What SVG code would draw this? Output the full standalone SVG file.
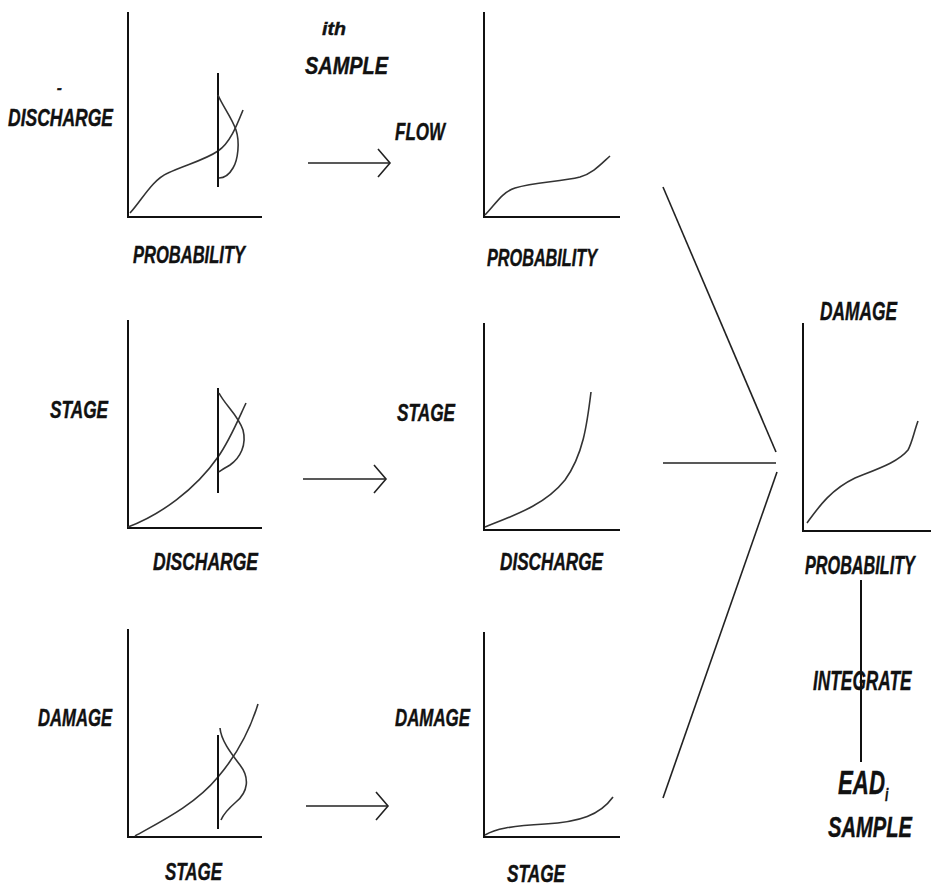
<svg xmlns="http://www.w3.org/2000/svg" width="931" height="888" viewBox="0 0 931 888">
<style>
.ax{fill:none;stroke:#111;stroke-width:2}
.cv{fill:none;stroke:#333;stroke-width:1.6}
.sl{fill:none;stroke:#111;stroke-width:2}
.cn{fill:none;stroke:#222;stroke-width:1.6}
.lb{font-family:"Liberation Sans",Arial,sans-serif;font-weight:bold;font-style:italic;font-size:23px;fill:#111;stroke:#111;stroke-width:0.4}
</style>
<defs>
<marker id="chev" markerUnits="userSpaceOnUse" markerWidth="16" markerHeight="32" refX="13" refY="15" orient="auto">
<path d="M1,1 L13,15 L1,29" fill="none" stroke="#222" stroke-width="1.6"/>
</marker>
</defs>
<rect width="931" height="888" fill="#fff"/>
<text class="lb" x="322" y="35" style="font-size:19px" textLength="24" lengthAdjust="spacingAndGlyphs">ith</text>
<text class="lb" x="305" y="74" style="font-size:24px" textLength="83" lengthAdjust="spacingAndGlyphs">SAMPLE</text>
<g id="chart1">
<text class="lb" x="57" y="93" style="font-size:14px;stroke-width:0.6">-</text>
<text class="lb" x="8" y="126" textLength="105" lengthAdjust="spacingAndGlyphs">DISCHARGE</text>
<path class="ax" d="M128,12 V217 H262"/>
<path class="cv" d="M130,213 C142,200 152,180 168,173 C185,165 205,160 218,151 C230,143 237,125 243,110"/>
<line class="sl" x1="218" y1="73" x2="218" y2="187"/>
<path class="cv" d="M218,95 C222,105 232,118 236,130 C240,142 238,160 233,168 C229,175 224,178 219,178"/>
<text class="lb" x="133" y="263" textLength="112" lengthAdjust="spacingAndGlyphs">PROBABILITY</text>
</g>
<g id="chart2">
<text class="lb" x="395" y="140" textLength="50" lengthAdjust="spacingAndGlyphs">FLOW</text>
<path class="ax" d="M484,12 V217 H620"/>
<path class="cv" d="M485,215 C495,205 502,192 515,188 C535,182 560,182 580,177 C593,173 600,165 610,156"/>
<text class="lb" x="487" y="266" textLength="110" lengthAdjust="spacingAndGlyphs">PROBABILITY</text>
</g>
<g id="chart3">
<text class="lb" x="50" y="418" textLength="58" lengthAdjust="spacingAndGlyphs">STAGE</text>
<path class="ax" d="M128,320 V528 H262"/>
<path class="cv" d="M128,527 C160,515 195,490 218,457 C230,440 238,420 246,403"/>
<line class="sl" x1="218" y1="388" x2="218" y2="493"/>
<path class="cv" d="M219,393 C225,405 238,415 243,430 C247,445 240,458 230,465 C225,468 221,470 219,472"/>
<text class="lb" x="153" y="570" textLength="105" lengthAdjust="spacingAndGlyphs">DISCHARGE</text>
</g>
<g id="chart4">
<text class="lb" x="397" y="421" textLength="58" lengthAdjust="spacingAndGlyphs">STAGE</text>
<path class="ax" d="M484,323 V530 H620"/>
<path class="cv" d="M485,527 C515,515 545,505 565,480 C583,455 587,425 591,392"/>
<text class="lb" x="500" y="570" textLength="103" lengthAdjust="spacingAndGlyphs">DISCHARGE</text>
</g>
<g id="chart5">
<text class="lb" x="38" y="726" textLength="74" lengthAdjust="spacingAndGlyphs">DAMAGE</text>
<path class="ax" d="M128,629 V837 H262"/>
<path class="cv" d="M135,836 C160,822 195,805 218,777 C235,757 250,730 258,704"/>
<line class="sl" x1="218" y1="735" x2="218" y2="829"/>
<path class="cv" d="M220,728 C221,740 230,752 240,765 C250,778 248,792 236,802 C228,809 223,815 221,820"/>
<text class="lb" x="165" y="880" textLength="57" lengthAdjust="spacingAndGlyphs">STAGE</text>
</g>
<g id="chart6">
<text class="lb" x="395" y="726" textLength="75" lengthAdjust="spacingAndGlyphs">DAMAGE</text>
<path class="ax" d="M484,632 V837 H620"/>
<path class="cv" d="M485,835 C495,829 510,826 545,824 C580,822 600,815 613,797"/>
<text class="lb" x="507" y="882" textLength="58" lengthAdjust="spacingAndGlyphs">STAGE</text>
</g>
<g id="chart7">
<text class="lb" transform="translate(820,320) scale(0.693,1)" style="font-size:25px">DAMAGE</text>
<path class="ax" d="M803,323 V531 H931"/>
<path class="cv" d="M807,523 C818,508 830,490 855,478 C880,468 898,462 908,450 C912,443 914,432 918,421"/>
<text class="lb" transform="translate(805,574) scale(0.649,1)" style="font-size:25px">PROBABILITY</text>
</g>
<g id="connectors">
<path class="cn" d="M308,163 H390" marker-end="url(#chev)"/>
<path class="cn" d="M303,479 H386" marker-end="url(#chev)"/>
<path class="cn" d="M306,806 H388" marker-end="url(#chev)"/>
<line class="cn" x1="663" y1="187" x2="776" y2="452"/>
<line class="cn" x1="663" y1="463" x2="776" y2="463"/>
<line class="cn" x1="777" y1="472" x2="663" y2="798"/>
<line class="sl" x1="861" y1="580" x2="861" y2="762"/>
</g>
<g id="integrate">
<text class="lb" transform="translate(813,690) scale(0.618,1)" style="font-size:28px">INTEGRATE</text>
</g>
<g id="ead">
<text class="lb" transform="translate(838,794) scale(0.674,1)" style="font-size:33px">EAD<tspan dy="7" style="font-size:18px">i</tspan></text>
<text class="lb" transform="translate(828,837) scale(0.672,1)" style="font-size:30px">SAMPLE</text>
</g>
</svg>
